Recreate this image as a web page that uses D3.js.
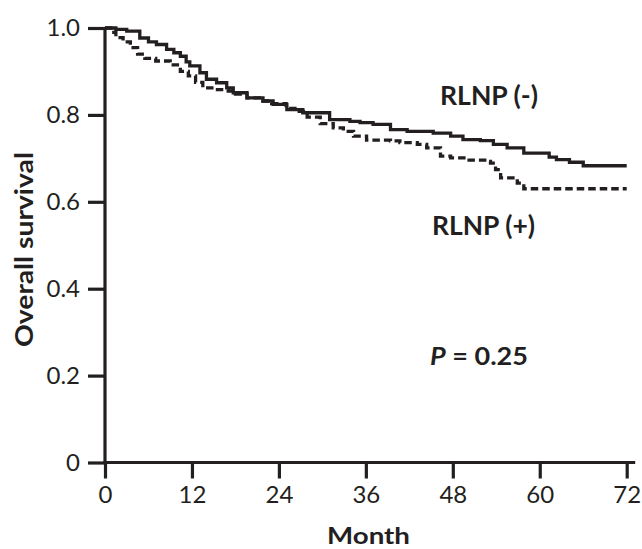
<!DOCTYPE html>
<html>
<head>
<meta charset="utf-8">
<script src="https://cdn.jsdelivr.net/npm/d3@7"></script>
<style>
  html, body { margin: 0; padding: 0; background: #fff; }
  svg { display: block; }
  text { font-family: Lato, "Noto Sans", sans-serif; fill: #231f20; }
</style>
</head>
<body>
<svg id="chart" width="642" height="549"></svg>
<script>
// ---- data ----
const xTickValues = [0, 12, 24, 36, 48, 60, 72];
const xTickLabels = ["0", "12", "24", "36", "48", "60", "72"];
const yTickValues = [0, 0.2, 0.4, 0.6, 0.8, 1.0];
const yTickLabels = ["0", "0.2", "0.4", "0.6", "0.8", "1.0"];

// RLNP (-) : solid line
const negMonths = [0, 1.5, 3.0, 4.8, 6.0, 7.1, 8.5, 9.5, 10.4, 11.2, 11.7, 13.1, 14.0, 15.4, 16.8, 17.7, 19.6, 21.8, 23.2, 25.1, 27.3, 31.0, 33.8, 35.2, 37.0, 39.4, 41.7, 45.3, 47.7, 49.4, 51.8, 53.6, 55.5, 57.8, 61.3, 62.3, 64.1, 66.0, 72];
const negSurv   = [1.0, 0.997, 0.993, 0.977, 0.968, 0.962, 0.951, 0.943, 0.935, 0.922, 0.913, 0.897, 0.882, 0.874, 0.862, 0.851, 0.839, 0.832, 0.824, 0.812, 0.805, 0.789, 0.785, 0.782, 0.778, 0.766, 0.762, 0.758, 0.751, 0.743, 0.741, 0.732, 0.724, 0.712, 0.703, 0.697, 0.691, 0.683, 0.683];

// RLNP (+) : dashed line
const posMonths = [0, 0.8, 1.5, 2.5, 3.5, 4.5, 5.5, 7.0, 9.0, 10.4, 11.5, 12.5, 13.5, 15.0, 17.0, 18.0, 19.6, 21.8, 23.0, 25.0, 26.5, 27.9, 29.7, 31.5, 32.9, 34.3, 36.1, 39.4, 40.7, 43.1, 44.4, 46.3, 47.7, 50.0, 52.7, 53.2, 53.9, 54.6, 56.9, 57.8, 72];
const posSurv   = [1.0, 0.99, 0.978, 0.968, 0.955, 0.94, 0.93, 0.924, 0.915, 0.9, 0.89, 0.875, 0.862, 0.858, 0.855, 0.848, 0.839, 0.832, 0.826, 0.815, 0.808, 0.795, 0.78, 0.77, 0.762, 0.751, 0.742, 0.74, 0.736, 0.732, 0.724, 0.705, 0.701, 0.696, 0.693, 0.689, 0.674, 0.655, 0.643, 0.63, 0.63];

const ink = "#231f20";
const svg = d3.select("#chart");
svg.append("rect").attr("width", 642).attr("height", 549).attr("fill", "#fff");

const x = d3.scaleLinear().domain([0, 72]).range([105, 626.7]);
const y = d3.scaleLinear().domain([0, 1]).range([462.5, 28]);

// y axis
const yAxis = svg.append("g").attr("transform", `translate(${x(0)},0)`)
  .call(d3.axisLeft(y).tickValues(yTickValues).tickFormat((d, i) => yTickLabels[i])
    .tickSize(17).tickSizeOuter(0).tickPadding(8));
// x axis
const xAxis = svg.append("g").attr("transform", `translate(0,${y(0)})`)
  .call(d3.axisBottom(x).tickValues(xTickValues).tickFormat((d, i) => xTickLabels[i])
    .tickSize(16).tickSizeOuter(0).tickPadding(7));
xAxis.select(".domain").attr("d", `M${x(0) - 1.5},0H${x(72) + 8.5}`);
yAxis.select(".domain").attr("d", `M0,${y(1) - 1}V${y(0) + 1.5}`);

[xAxis, yAxis].forEach(g => {
  g.selectAll("path, line").attr("stroke", ink).attr("stroke-width", 3.2);
  g.selectAll("text").attr("fill", ink).style("font-size", "24px")
    .style("font-family", "Lato, 'Noto Sans', sans-serif");
});

// curves
const line = d3.line().x(d => x(d[0])).y(d => y(d[1])).curve(d3.curveStepAfter);
const negData = negMonths.map((m, i) => [m, negSurv[i]]);
const posData = posMonths.map((m, i) => [m, posSurv[i]]);

svg.append("path").datum(posData).attr("d", line)
  .attr("fill", "none").attr("stroke", ink).attr("stroke-width", 3.3)
  .attr("stroke-dasharray", "7.5,4");
svg.append("path").datum(negData).attr("d", line)
  .attr("fill", "none").attr("stroke", ink).attr("stroke-width", 3.3);

// labels
function label(txt, xx, yy, size, len, anchor) {
  return svg.append("text").attr("x", xx).attr("y", yy)
    .attr("text-anchor", anchor || "start")
    .style("font-size", size + "px").style("font-weight", "bold")
    .attr("textLength", len).attr("lengthAdjust", "spacingAndGlyphs")
    .text(txt);
}
label("RLNP (-)", 440, 105, 26, 98);
label("RLNP (+)", 432, 235, 26, 103);
label("Month", 368.5, 543.5, 23, 83, "middle");

svg.append("text").attr("transform", "translate(33,249.5) rotate(-90)")
  .attr("text-anchor", "middle")
  .style("font-size", "25px").style("font-weight", "bold")
  .attr("textLength", 195).attr("lengthAdjust", "spacingAndGlyphs")
  .text("Overall survival");

const pt = svg.append("text").attr("x", 430).attr("y", 365)
  .style("font-size", "25px").style("font-weight", "bold")
  .attr("textLength", 98).attr("lengthAdjust", "spacingAndGlyphs");
pt.append("tspan").style("font-style", "italic").text("P");
pt.append("tspan").text(" = 0.25");
</script>
</body>
</html>
